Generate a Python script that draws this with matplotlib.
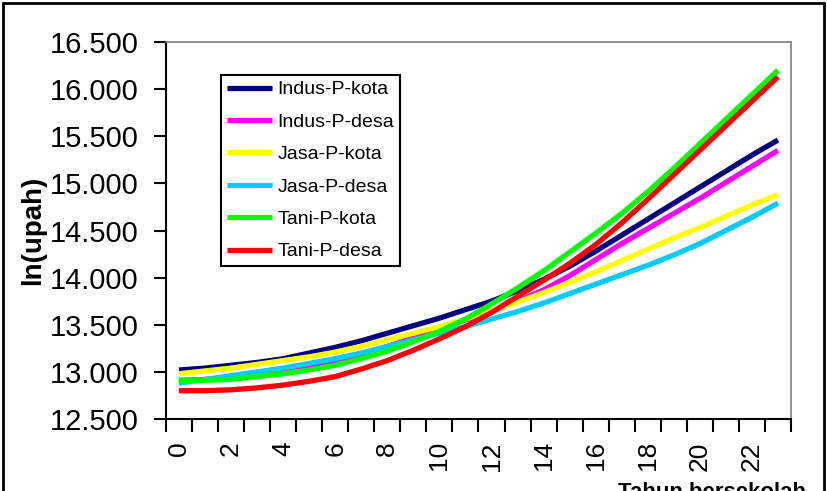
import numpy as np
import matplotlib
matplotlib.use('Agg')
import matplotlib.pyplot as plt
from matplotlib.patches import Rectangle
from matplotlib.ticker import FuncFormatter

plt.rcParams['font.family'] = ['Liberation Sans', 'DejaVu Sans']

# ---- data ----
years = list(range(24))
tick_years = list(range(0, 24, 2))

indus_p_kota = [13.02, 13.04, 13.07, 13.10, 13.14, 13.20, 13.26, 13.33, 13.41, 13.49, 13.57, 13.66,
                13.75, 13.86, 13.98, 14.12, 14.28, 14.45, 14.62, 14.79, 14.96, 15.13, 15.30, 15.46]
indus_p_desa = [12.91, 12.92, 12.94, 12.97, 13.01, 13.06, 13.12, 13.19, 13.27, 13.36, 13.46, 13.55,
                13.64, 13.75, 13.87, 14.02, 14.19, 14.36, 14.52, 14.68, 14.84, 15.01, 15.18, 15.35]
jasa_p_kota = [12.98, 13.01, 13.04, 13.08, 13.12, 13.16, 13.21, 13.27, 13.34, 13.41, 13.48, 13.56,
               13.65, 13.74, 13.84, 13.95, 14.06, 14.18, 14.30, 14.42, 14.53, 14.65, 14.77, 14.88]
jasa_p_desa = [12.88, 12.92, 12.96, 13.00, 13.04, 13.09, 13.14, 13.20, 13.27, 13.34, 13.41, 13.48,
               13.56, 13.64, 13.73, 13.83, 13.93, 14.03, 14.13, 14.24, 14.36, 14.50, 14.64, 14.79]
tani_p_kota = [12.91, 12.91, 12.92, 12.95, 12.98, 13.02, 13.07, 13.14, 13.22, 13.32, 13.43, 13.56,
               13.72, 13.89, 14.07, 14.27, 14.47, 14.68, 14.91, 15.16, 15.42, 15.68, 15.94, 16.20]
tani_p_desa = [12.80, 12.80, 12.81, 12.83, 12.86, 12.90, 12.95, 13.03, 13.12, 13.23, 13.35, 13.48,
               13.63, 13.80, 13.97, 14.15, 14.35, 14.58, 14.83, 15.09, 15.35, 15.61, 15.87, 16.13]

series_names = ['Indus-P-kota', 'Indus-P-desa', 'Jasa-P-kota', 'Jasa-P-desa', 'Tani-P-kota', 'Tani-P-desa']
series_values = [indus_p_kota, indus_p_desa, jasa_p_kota, jasa_p_desa, tani_p_kota, tani_p_desa]
series_colors = ['#000080', '#FF00FF', '#FFFF00', '#00CCFF', '#00FF00', '#FF0000']

y_ticks = [12.5, 13.0, 13.5, 14.0, 14.5, 15.0, 15.5, 16.0, 16.5]

# ---- figure ----
W, H = 828, 491
fig = plt.figure(figsize=(W / 100, H / 100), dpi=100)
ax = fig.add_axes([166 / W, (H - 419) / H, 625 / W, 377 / H])

for vals, name, col in zip(series_values, series_names, series_colors):
    ax.plot(years, vals, color=col, lw=3.8, label=name, solid_capstyle='butt', solid_joinstyle='round')

ax.set_xlim(-0.5, 23.5)
ax.set_ylim(12.5, 16.5)

ax.set_yticks(y_ticks)
ax.yaxis.set_major_formatter(FuncFormatter(lambda v, p: f"{v:.3f}"))
ax.tick_params(axis='y', length=9, width=1.5, pad=11, labelsize=21, direction='out', colors='black')

ax.set_xticks(np.arange(-0.5, 24, 1))
ax.set_xticklabels([])
ax.tick_params(axis='x', which='major', length=9, width=1.5, direction='out')
ax.set_xticks(tick_years, minor=True)
ax.set_xticklabels([str(t) for t in tick_years], minor=True, rotation=90)
ax.tick_params(axis='x', which='minor', length=0, pad=16, labelsize=19)

for s in ['left', 'bottom']:
    ax.spines[s].set_color('black')
    ax.spines[s].set_linewidth(1.5)
for s in ['top', 'right']:
    ax.spines[s].set_color('#808080')
    ax.spines[s].set_linewidth(1.2)

ax.set_ylabel('ln(upah)', fontsize=20, fontweight='bold')
ax.yaxis.set_label_coords(-0.192, 0.5)

fig.text(712 / W, (H - 498) / H, 'Tahun bersekolah', ha='center', va='baseline',
         fontsize=16, fontweight='bold')

leg = ax.legend(loc='upper left', bbox_to_anchor=(0.088, 0.9125), borderaxespad=0,
                fontsize=14, frameon=True, fancybox=False, edgecolor='black',
                handlelength=2.3, handletextpad=0.3, labelspacing=0.76, borderpad=0.3,
                framealpha=1)
leg.get_frame().set_linewidth(1.5)

# outer chart border
fig.patches.append(Rectangle((3 / W, -0.1), (824 - 3) / W, 1.1 - 3 / H, transform=fig.transFigure,
                             fill=False, edgecolor='black', linewidth=2, figure=fig))

fig.savefig('out.png', dpi=100)
